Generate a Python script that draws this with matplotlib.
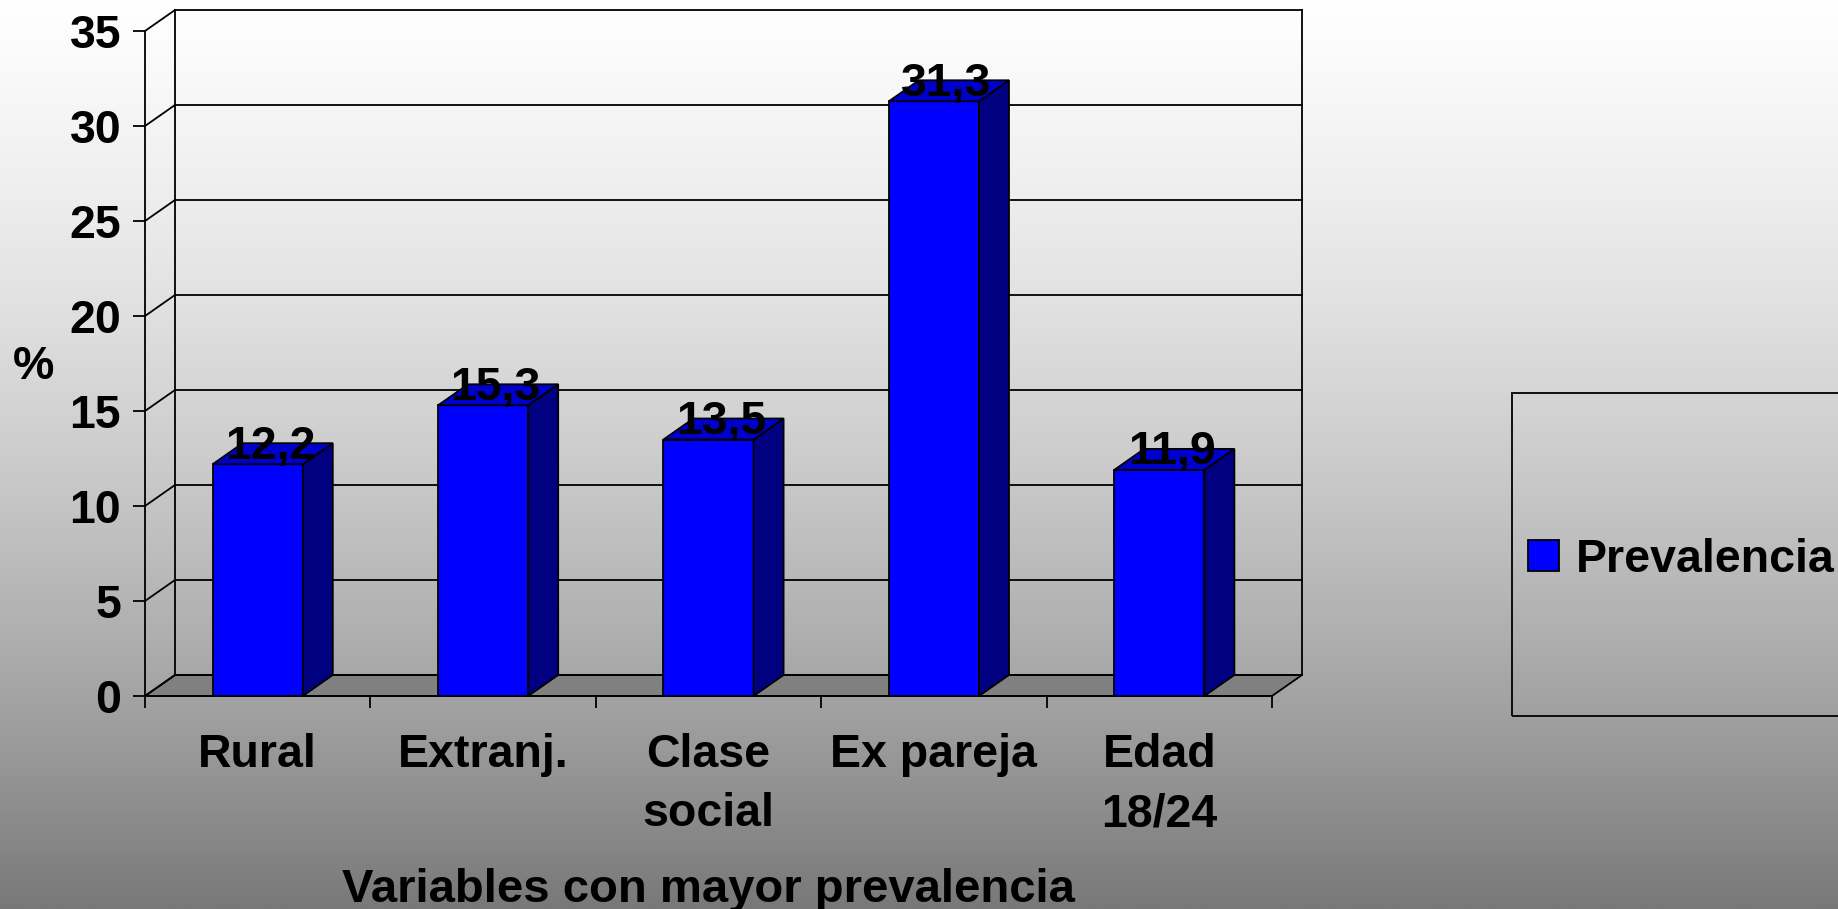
import numpy as np
import matplotlib
matplotlib.use("Agg")
import matplotlib.pyplot as plt
from matplotlib.patches import Polygon, Rectangle
from matplotlib.lines import Line2D

# ---- data ----
categories = ["Rural", "Extranj.", "Clase\nsocial", "Ex pareja", "Edad\n18/24"]
values = [12.2, 15.3, 13.5, 31.3, 11.9]
series_name = "Prevalencia"
y_ticks = [0, 5, 10, 15, 20, 25, 30, 35]
x_title = "Variables con mayor prevalencia"
y_title = "%"

# ---- style ----
W, H, DPI = 1838, 909, 100
plt.rcParams['font.family'] = ['Liberation Sans', 'DejaVu Sans']
plt.rcParams['font.weight'] = 'bold'
FS = 33.5
LW = 1.3
FRONT = '#0000FF'
SIDE = '#000080'
TOP = '#0000CC'
FLOOR = '#808080'

fig = plt.figure(figsize=(W / DPI, H / DPI), dpi=DPI)

# background gradient
bg = fig.add_axes([0, 0, 1, 1], zorder=-10)
t = np.linspace(0, 1, 512)[:, None]
c = 255 - 135 * (0.5 * t + 0.5 * t ** 2)
grad = np.repeat(c / 255.0, 4, axis=1)
img = np.dstack([grad, grad, grad])
bg.imshow(img, aspect='auto', extent=[0, 1, 0, 1], origin='upper')
bg.set_axis_off()

# main axes (front plane)
left_px, right_px, zero_px, top_px = 145, 1272, 696, 31
ax = fig.add_axes([left_px / W, 1 - zero_px / H,
                   (right_px - left_px) / W, (zero_px - top_px) / H])
ax.set_facecolor('none')
n = len(categories)
x = np.arange(n)
ax.set_xlim(-0.5, n - 0.5)
ax.set_ylim(y_ticks[0], y_ticks[-1])

# depth offset in data units
dx_px, dy_px = 30, 21
DX = dx_px * n / (right_px - left_px)
DY = dy_px * (y_ticks[-1] - y_ticks[0]) / (zero_px - top_px)

x0, x1 = -0.5, n - 0.5
# floor
floor = Polygon([(x0, 0), (x1, 0), (x1 + DX, DY), (x0 + DX, DY)], closed=True,
                facecolor=FLOOR, edgecolor='black', lw=LW, clip_on=False, zorder=1)
ax.add_patch(floor)
# back wall gridlines and side diagonals
for v in y_ticks:
    ax.add_line(Line2D([x0 + DX, x1 + DX], [v + DY, v + DY], color='black', lw=LW,
                       clip_on=False, zorder=1.5))
    ax.add_line(Line2D([x0, x0 + DX], [v, v + DY], color='black', lw=LW,
                       clip_on=False, zorder=1.5))
for xe in (x0 + DX, x1 + DX):
    ax.add_line(Line2D([xe, xe], [y_ticks[0] + DY, y_ticks[-1] + DY], color='black',
                       lw=LW, clip_on=False, zorder=1.5))

# bars
bw = 0.4
bars = ax.bar(x, values, width=bw, color=FRONT, edgecolor='black', lw=LW,
              zorder=3, label=series_name)
for xi, v in zip(x, values):
    side = Polygon([(xi + bw / 2, 0), (xi + bw / 2 + DX, DY), (xi + bw / 2 + DX, v + DY),
                    (xi + bw / 2, v)], closed=True, facecolor=SIDE, edgecolor='black',
                   lw=LW, zorder=3, clip_on=False)
    top = Polygon([(xi - bw / 2, v), (xi + bw / 2, v), (xi + bw / 2 + DX, v + DY),
                   (xi - bw / 2 + DX, v + DY)], closed=True, facecolor=TOP,
                  edgecolor='black', lw=LW, zorder=3, clip_on=False)
    ax.add_patch(side)
    ax.add_patch(top)
    ax.annotate(f"{v:.1f}".replace('.', ','), xy=(xi + DX / 2, v), xytext=(-1.8, 4.0),
                textcoords='offset points', ha='center', va='baseline',
                fontsize=FS, fontweight='bold', zorder=5, annotation_clip=False)

# spines and ticks
for s in ('top', 'right'):
    ax.spines[s].set_visible(False)
for s in ('left', 'bottom'):
    ax.spines[s].set_linewidth(LW)
    ax.spines[s].set_zorder(2)
ax.set_yticks(y_ticks)
ax.set_yticklabels([str(v) for v in y_ticks])
ax.tick_params(axis='y', direction='out', length=8.6, width=LW, pad=8.6,
               labelsize=FS)
ax.set_xticks(np.arange(n + 1) - 0.5)
ax.set_xticklabels([''] * (n + 1))
ax.tick_params(axis='x', which='major', direction='out', length=8.6, width=LW)
ax.set_xticks(x, minor=True)
ax.set_xticklabels(categories, minor=True, fontsize=FS, fontweight='bold',
                   linespacing=1.45)
ax.tick_params(axis='x', which='minor', length=0, pad=26.5)

ax.set_xlabel(x_title, fontsize=FS + 0.5, fontweight='bold', va='baseline')
ax.xaxis.set_label_coords(0.5, (zero_px - 902) / (zero_px - top_px))
ax.set_ylabel(y_title, fontsize=FS, fontweight='bold', rotation=0,
              va='baseline', ha='center')
ax.yaxis.set_label_coords((33.5 - left_px) / (right_px - left_px),
                          (zero_px - 379) / (zero_px - top_px))

# legend
fig.add_artist(Rectangle((1512 / W, 1 - 716 / H), 0.3, 323 / H, transform=fig.transFigure,
                         fill=False, edgecolor='black', lw=LW, clip_on=False))
ax.legend(handles=[bars], loc='center left', bbox_to_anchor=(1528 / W, 1 - 560 / H),
          bbox_transform=fig.transFigure, frameon=False, borderpad=0,
          borderaxespad=0, handlelength=31 / 46, handleheight=30 / 46,
          handletextpad=16 / 46, prop={'size': FS, 'weight': 'bold'})

fig.savefig("out.png", dpi=DPI)
